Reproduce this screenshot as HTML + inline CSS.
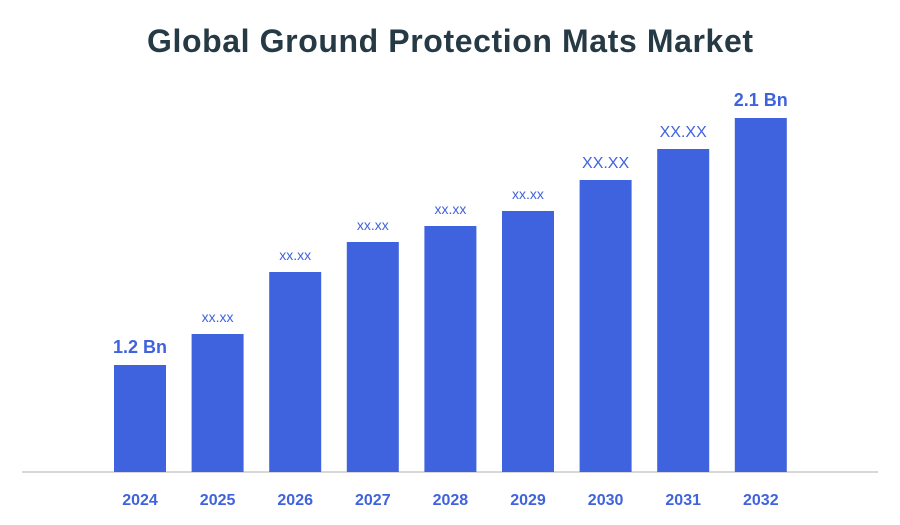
<!DOCTYPE html>
<html><head><meta charset="utf-8"><style>
body{margin:0;background:#fff;}
svg{display:block;font-family:"Liberation Sans",sans-serif;}
</style></head><body>
<svg id="chart" width="900" height="525">
<text x="450" y="52" text-anchor="middle" font-size="32" font-weight="bold" fill="#253a45" textLength="606">Global Ground Protection Mats Market</text>
<line x1="22" y1="472" x2="878" y2="472" stroke="#cccccc" stroke-width="1.5"/>
<g id="bars"></g>
</svg>
<script>
const categories=["2024","2025","2026","2027","2028","2029","2030","2031","2032"];
const values=[1.07,1.38,2.00,2.30,2.46,2.61,2.92,3.23,3.54];
const labels=["1.2 Bn","xx.xx","xx.xx","xx.xx","xx.xx","xx.xx","XX.XX","XX.XX","2.1 Bn"];
const labelSizes=[18,14,14,14,14,14,16,16,18];
const base=472, unit=100, x0=114, step=77.6, bw=52;
function xPos(i){return x0+i*step;}
function yPos(v){return base-v*unit;}
const g=document.getElementById('bars');
const ns="http://www.w3.org/2000/svg";
categories.forEach((c,i)=>{
  const r=document.createElementNS(ns,'rect');
  r.setAttribute('x',xPos(i));r.setAttribute('y',yPos(values[i]));
  r.setAttribute('width',bw);r.setAttribute('height',base-yPos(values[i]));
  r.setAttribute('fill','#3f62de');
  
  
  g.appendChild(r);
  const t=document.createElementNS(ns,'text');
  t.setAttribute('x',xPos(i)+bw/2);t.setAttribute('y',yPos(values[i])-12);
  t.setAttribute('text-anchor','middle');t.setAttribute('fill','#3f62de');
  t.setAttribute('font-size',labelSizes[i]);
  if(labelSizes[i]>=18)t.setAttribute('font-weight','bold');
  t.textContent=labels[i];
  
  
  g.appendChild(t);
  const xl=document.createElementNS(ns,'text');
  xl.setAttribute('x',xPos(i)+bw/2);xl.setAttribute('y',505);
  xl.setAttribute('text-anchor','middle');xl.setAttribute('fill','#3f62de');
  xl.setAttribute('font-size','16');xl.setAttribute('font-weight','bold');
  xl.textContent=c;
  
  
  g.appendChild(xl);
});
</script>
</body></html>
